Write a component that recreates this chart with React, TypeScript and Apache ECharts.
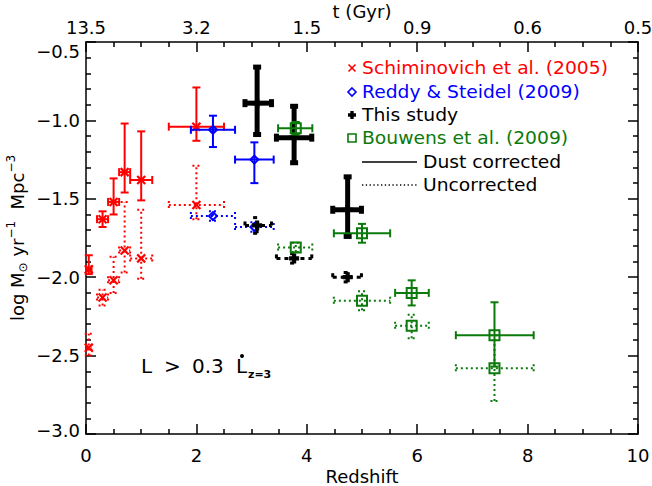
import React, { useEffect, useRef } from "react";
import * as echarts from "echarts";

// ---------- data ----------
// Schiminovich et al. (2005)
const schZ = [0.05, 0.3, 0.5, 0.7, 1.0, 2.0];
const schZLo = [0.0, 0.2, 0.4, 0.6, 0.8, 1.5];
const schZHi = [0.1, 0.4, 0.6, 0.8, 1.2, 2.5];
const schDust = [-1.95, -1.63, -1.52, -1.33, -1.38, -1.04];
const schDustLo = [-1.98, -1.68, -1.6, -1.46, -1.51, -1.13];
const schDustHi = [-1.86, -1.58, -1.37, -1.02, -1.07, -0.79];
const schRaw = [-2.45, -2.13, -2.02, -1.83, -1.88, -1.54];
const schRawLo = [-2.5, -2.18, -2.1, -1.97, -2.01, -1.63];
const schRawHi = [-2.36, -2.08, -1.87, -1.52, -1.57, -1.29];

// Reddy & Steidel (2009)
const rsZ = [2.3, 3.05];
const rsZLo = [1.9, 2.7];
const rsZHi = [2.7, 3.4];
const rsDust = [-1.06, -1.25];
const rsDustLo = [-1.17, -1.4];
const rsDustHi = [-0.97, -1.14];
const rsRaw = [-1.61, -1.68];
const rsRawLo = [-1.64, -1.71];
const rsRawHi = [-1.58, -1.65];

// This study
const tsZ = [3.1, 3.77, 4.74];
const tsZLo = [2.88, 3.45, 4.47];
const tsZHi = [3.36, 4.09, 4.99];
const tsDust = [-0.89, -1.11, -1.57];
const tsDustLo = [-1.09, -1.27, -1.74];
const tsDustHi = [-0.66, -0.91, -1.36];
const tsRaw = [-1.67, -1.88, -2.0];
const tsRawLo = [-1.72, -1.91, -2.03];
const tsRawHi = [-1.62, -1.85, -1.97];

// Bouwens et al. (2009)
const bwZ = [3.8, 5.0, 5.9, 7.4];
const bwZLo = [3.48, 4.49, 5.6, 6.7];
const bwZHi = [4.1, 5.51, 6.21, 8.11];
const bwDust = [-1.05, -1.72, -2.1, -2.37];
const bwDustLo = [-1.09, -1.78, -2.18, -2.57];
const bwDustHi = [-1.01, -1.66, -2.02, -2.16];
const bwRaw = [-1.81, -2.15, -2.31, -2.58];
const bwRawLo = [-1.84, -2.21, -2.39, -2.79];
const bwRawHi = [-1.78, -2.09, -2.24, -2.37];

// top axis: cosmic time labels at redshift ticks
const topTickZ = [0, 2, 4, 6, 8, 10];
const topTickLabels = ["13.5", "3.2", "1.5", "0.9", "0.6", "0.5"];

// y range
const Y_MIN = -3;
const Y_MAX = -0.5;

const legendNames = [
  "Schiminovich et al. (2005)",
  "Reddy & Steidel (2009)",
  "This study",
  "Bouwens et al. (2009)",
];

// ---------- styling ----------
const FONT = "DejaVu Sans";
const RED = "#ff0000";
const BLUE = "#0000ff";
const BLACK = "#000000";
const GREEN = "#0b7a0b";

type Marker = "cross" | "diamond" | "plus" | "square";

function fmtY(v: number) {
  return (v < 0 ? "−" : "") + Math.abs(v).toFixed(1);
}

function markerEl(kind: Marker, cx: number, cy: number, s: number, color: string, lw: number) {
  if (kind === "cross") {
    return {
      type: "group",
      children: [
        { type: "line", shape: { x1: cx - s, y1: cy - s, x2: cx + s, y2: cy + s }, style: { stroke: color, lineWidth: lw } },
        { type: "line", shape: { x1: cx - s, y1: cy + s, x2: cx + s, y2: cy - s }, style: { stroke: color, lineWidth: lw } },
      ],
    };
  }
  if (kind === "diamond") {
    return {
      type: "polygon",
      shape: { points: [[cx, cy - s], [cx + s, cy], [cx, cy + s], [cx - s, cy]] },
      style: { stroke: color, lineWidth: lw, fill: "none" },
    };
  }
  if (kind === "square") {
    return {
      type: "rect",
      shape: { x: cx - s, y: cy - s, width: 2 * s, height: 2 * s },
      style: { stroke: color, lineWidth: lw, fill: "none" },
    };
  }
  const w = s * 0.42;
  return {
    type: "polygon",
    shape: {
      points: [
        [cx - w, cy - s], [cx + w, cy - s], [cx + w, cy - w], [cx + s, cy - w], [cx + s, cy + w], [cx + w, cy + w],
        [cx + w, cy + s], [cx - w, cy + s], [cx - w, cy + w], [cx - s, cy + w], [cx - s, cy - w], [cx - w, cy - w],
      ],
    },
    style: { fill: color, stroke: "none" },
  };
}

function rows(z: number[], zl: number[], zh: number[], y: number[], yl: number[], yh: number[]) {
  return z.map((v, i) => [v, zl[i], zh[i], y[i], yl[i], yh[i]]);
}

function errSeries(
  name: string,
  data: number[][],
  o: { color: string; lw: number; dash?: number[]; cap: number; capLw: number; marker: Marker; ms: number; mlw: number }
) {
  return {
    type: "custom",
    name,
    data,
    encode: { x: [0, 1, 2], y: [3, 4, 5] },
    silent: true,
    renderItem: (_p: any, api: any) => {
      const z = api.value(0), zl = api.value(1), zh = api.value(2);
      const y = api.value(3), yl = api.value(4), yh = api.value(5);
      const c = api.coord([z, y]);
      const xl = api.coord([zl, y])[0];
      const xh = api.coord([zh, y])[0];
      const ylo = api.coord([z, yl])[1];
      const yhi = api.coord([z, yh])[1];
      const st = { stroke: o.color, lineWidth: o.lw, lineDash: o.dash || null, fill: "none" };
      const cst = { stroke: o.color, lineWidth: o.capLw, lineDash: o.dash || null, fill: "none" };
      const k = o.cap;
      return {
        type: "group",
        children: [
          { type: "line", shape: { x1: xl, y1: c[1], x2: xh, y2: c[1] }, style: st },
          { type: "line", shape: { x1: c[0], y1: ylo, x2: c[0], y2: yhi }, style: st },
          { type: "line", shape: { x1: xl, y1: c[1] - k, x2: xl, y2: c[1] + k }, style: cst },
          { type: "line", shape: { x1: xh, y1: c[1] - k, x2: xh, y2: c[1] + k }, style: cst },
          { type: "line", shape: { x1: c[0] - k, y1: ylo, x2: c[0] + k, y2: ylo }, style: cst },
          { type: "line", shape: { x1: c[0] - k, y1: yhi, x2: c[0] + k, y2: yhi }, style: cst },
          markerEl(o.marker, c[0], c[1], o.ms, o.color, o.mlw),
        ],
      };
    },
  };
}

const DOT = [2, 3];
const BDASH = [4, 4];

function buildOption() {
  const axisCommon = {
    type: "value",
    min: 0,
    max: 10,
    interval: 2,
    nameMoveOverlap: false,
    splitLine: { show: false },
    axisLine: { show: true, onZero: false, lineStyle: { color: "#000", width: 1.5 } },
    axisTick: { show: true, inside: true, length: 10, lineStyle: { color: "#000", width: 1.5 } },
    minorTick: { show: true, splitNumber: 4, length: 5, lineStyle: { color: "#000", width: 1.5 } },
  };
  const yCommon = {
    type: "value",
    min: Y_MIN,
    max: Y_MAX,
    interval: 0.5,
    nameMoveOverlap: false,
    splitLine: { show: false },
    axisLine: { show: true, onZero: false, lineStyle: { color: "#000", width: 1.5 } },
    axisTick: { show: true, inside: true, length: 10, lineStyle: { color: "#000", width: 1.5 } },
    minorTick: { show: true, splitNumber: 5, length: 5, lineStyle: { color: "#000", width: 1.5 } },
  };
  const labelFont = { fontFamily: FONT, fontSize: 18, color: "#000" };

  const legendX = 352;
  const legendTextX = 362;
  const rowY = [68, 92, 115, 138, 162, 185];
  const legendColors = [RED, BLUE, BLACK, GREEN];
  const legendMarkers: Marker[] = ["cross", "diamond", "plus", "square"];
  const legendText = (t: string, x: number, y: number, color: string) => ({
    type: "text",
    x,
    y,
    scaleX: 1.04,
    style: { text: t, fill: color, fontFamily: FONT, fontSize: 18, align: "left", verticalAlign: "middle" },
  });

  const graphics: any[] = [];
  legendNames.forEach((n, i) => {
    graphics.push(markerEl(legendMarkers[i], legendX, rowY[i], legendMarkers[i] === "cross" ? 3.5 : 4, legendColors[i], 1.6));
    graphics.push(legendText(n, legendTextX, rowY[i], legendColors[i]));
  });
  graphics.push({ type: "line", shape: { x1: 362, y1: rowY[4], x2: 417, y2: rowY[4] }, style: { stroke: "#000", lineWidth: 1.3 } });
  graphics.push(legendText("Dust corrected", 423, rowY[4], "#000"));
  graphics.push({ type: "line", shape: { x1: 362, y1: rowY[5], x2: 417, y2: rowY[5] }, style: { stroke: "#000", lineWidth: 1.3, lineDash: [1.3, 2.5] } });
  graphics.push(legendText("Uncorrected", 423, rowY[5], "#000"));

  // top y tick label, drawn just below its tick as in the original
  graphics.push({
    type: "text", x: 80, y: 51,
    style: { text: fmtY(Y_MAX), fill: "#000", fontFamily: FONT, fontSize: 18, align: "right", verticalAlign: "middle" },
  });

  // annotation L > 0.3 L*_{z=3}
  const annY = 365.5;
  const ann = (t: string, x: number) => ({
    type: "text", x, y: annY,
    style: { text: t, fill: "#000", fontFamily: FONT, fontSize: 20, align: "left", verticalAlign: "middle" },
  });
  graphics.push(ann("L", 141));
  graphics.push(ann(">", 164));
  graphics.push(ann("0.3", 192));
  graphics.push(ann("L", 236));
  graphics.push({
    type: "text", x: 248, y: 374,
    style: { text: "z=3", fill: "#000", fontFamily: FONT, fontSize: 11, fontWeight: "bold", align: "left", verticalAlign: "middle" },
  });
  graphics.push({ type: "circle", shape: { cx: 242, cy: 356, r: 2 }, style: { fill: "#000" } });

  return {
    animation: false,
    backgroundColor: "#fff",
    grid: { left: 86, right: 14, top: 42, bottom: 52, containLabel: false, outerBoundsMode: "none" },
    xAxis: [
      {
        ...axisCommon,
        position: "bottom",
        name: "Redshift",
        nameLocation: "middle",
        nameGap: 33,
        nameTextStyle: { ...labelFont },
        axisLabel: { ...labelFont, margin: 12 },
      },
      {
        ...axisCommon,
        position: "top",
        name: "t (Gyr)",
        nameLocation: "middle",
        nameGap: 22,
        nameTextStyle: { ...labelFont },
        axisLabel: {
          ...labelFont,
          margin: 6,
          formatter: (v: number) => {
            const i = topTickZ.indexOf(v);
            return i >= 0 ? topTickLabels[i] : "";
          },
        },
      },
    ],
    yAxis: [
      {
        ...yCommon,
        position: "left",
        name: "log M{sun|⊙} yr{sup|−1}  Mpc{sup|−3}",
        nameLocation: "middle",
        nameRotate: 90,
        nameGap: 57,
        nameTextStyle: {
          ...labelFont,
          lineHeight: 24,
          rich: {
            sun: { fontFamily: FONT, fontSize: 12, color: "#000", verticalAlign: "bottom", lineHeight: 14 },
            sup: { fontFamily: FONT, fontSize: 12, color: "#000", verticalAlign: "top", lineHeight: 12 },
          },
        },
        axisLabel: {
          ...labelFont,
          margin: 6,
          showMaxLabel: false,
          formatter: (v: number) => {
            if (v >= Y_MAX) return "";
            const s = fmtY(v);
            if (v <= Y_MIN) return "{mn|" + s + "}";
            return s;
          },
          rich: {
            mn: { fontFamily: FONT, fontSize: 18, color: "#000", padding: [0, 0, 8, 0] },
          },
        },
      },
      {
        ...yCommon,
        position: "right",
        axisLabel: { show: false },
      },
    ],
    series: [
      errSeries("sch-raw", rows(schZ, schZLo, schZHi, schRaw, schRawLo, schRawHi), { color: RED, lw: 2, dash: DOT, cap: 4, capLw: 2, marker: "cross", ms: 4, mlw: 2.2 }),
      errSeries("sch-dust", rows(schZ, schZLo, schZHi, schDust, schDustLo, schDustHi), { color: RED, lw: 2, cap: 4, capLw: 2, marker: "cross", ms: 4, mlw: 2.2 }),
      errSeries("rs-raw", rows(rsZ, rsZLo, rsZHi, rsRaw, rsRawLo, rsRawHi), { color: BLUE, lw: 2, dash: DOT, cap: 4, capLw: 2, marker: "diamond", ms: 4, mlw: 2 }),
      errSeries("rs-dust", rows(rsZ, rsZLo, rsZHi, rsDust, rsDustLo, rsDustHi), { color: BLUE, lw: 2, cap: 4, capLw: 2, marker: "diamond", ms: 4, mlw: 2 }),
      errSeries("ts-raw", rows(tsZ, tsZLo, tsZHi, tsRaw, tsRawLo, tsRawHi), { color: BLACK, lw: 3, dash: BDASH, cap: 4, capLw: 3, marker: "plus", ms: 5, mlw: 2 }),
      errSeries("ts-dust", rows(tsZ, tsZLo, tsZHi, tsDust, tsDustLo, tsDustHi), { color: BLACK, lw: 5, cap: 4, capLw: 5, marker: "plus", ms: 5, mlw: 2 }),
      errSeries("bw-raw", rows(bwZ, bwZLo, bwZHi, bwRaw, bwRawLo, bwRawHi), { color: GREEN, lw: 2, dash: DOT, cap: 4, capLw: 2, marker: "square", ms: 5, mlw: 2 }),
      errSeries("bw-dust", rows(bwZ, bwZLo, bwZHi, bwDust, bwDustLo, bwDustHi), { color: GREEN, lw: 2, cap: 4, capLw: 2, marker: "square", ms: 5, mlw: 2 }),
    ],
    graphic: graphics,
  };
}

export default function App() {
  const ref = useRef<HTMLDivElement>(null);
  useEffect(() => {
    if (!ref.current) return;
    const chart = echarts.init(ref.current, null, { renderer: "svg" });
    chart.setOption(buildOption() as any);
    return () => {
      chart.dispose();
    };
  }, []);
  return (
    <div
      ref={ref}
      style={{ position: "fixed", left: 0, top: 0, width: 652, height: 486, background: "#fff" }}
    />
  );
}
